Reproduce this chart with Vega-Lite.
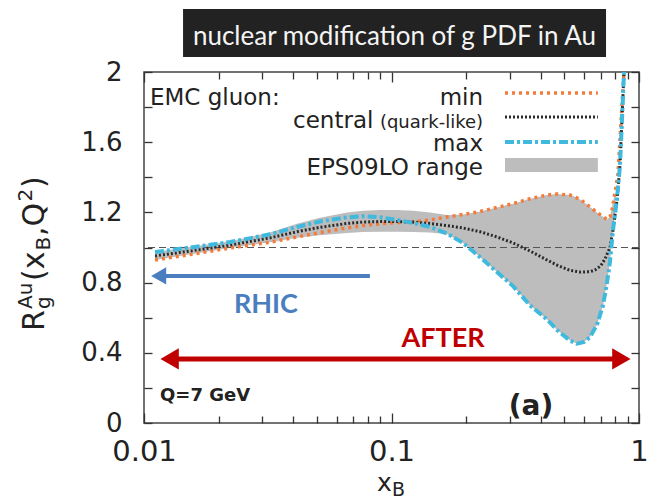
{
  "$schema": "https://vega.github.io/schema/vega-lite/v6.json",
  "width": 495,
  "height": 351,
  "autosize": {"type": "none"},
  "padding": {"left": 144, "top": 72, "right": 11, "bottom": 78},
  "background": "white",
  "config": {
    "font": "DejaVu Sans",
    "view": {"stroke": "#444444", "strokeWidth": 1.5},
    "axis": {"grid": false, "domain": false, "tickColor": "#333333", "tickWidth": 1.3, "labelColor": "#222222", "labelFont": "DejaVu Sans", "title": null}
  },
  "data": {"values": [{}]},
  "datasets": {
    "curves": [
      {"s": "min", "x": 0.01108, "y": 0.929}, {"s": "min", "x": 0.01535, "y": 0.96}, {"s": "min", "x": 0.02226, "y": 0.997},
      {"s": "min", "x": 0.0323, "y": 1.03}, {"s": "min", "x": 0.0415, "y": 1.06}, {"s": "min", "x": 0.0514, "y": 1.085},
      {"s": "min", "x": 0.0661, "y": 1.112}, {"s": "min", "x": 0.0767, "y": 1.125}, {"s": "min", "x": 0.0898, "y": 1.135},
      {"s": "min", "x": 0.1053, "y": 1.142}, {"s": "min", "x": 0.1221, "y": 1.147}, {"s": "min", "x": 0.1431, "y": 1.157},
      {"s": "min", "x": 0.1676, "y": 1.174}, {"s": "min", "x": 0.1945, "y": 1.188}, {"s": "min", "x": 0.2279, "y": 1.205},
      {"s": "min", "x": 0.2669, "y": 1.228}, {"s": "min", "x": 0.3098, "y": 1.25}, {"s": "min", "x": 0.3628, "y": 1.278},
      {"s": "min", "x": 0.425, "y": 1.299}, {"s": "min", "x": 0.4663, "y": 1.305}, {"s": "min", "x": 0.5262, "y": 1.299},
      {"s": "min", "x": 0.5775, "y": 1.275}, {"s": "min", "x": 0.634, "y": 1.231}, {"s": "min", "x": 0.6766, "y": 1.2},
      {"s": "min", "x": 0.7155, "y": 1.175}, {"s": "min", "x": 0.7426, "y": 1.16}, {"s": "min", "x": 0.7636, "y": 1.175},
      {"s": "min", "x": 0.778, "y": 1.214}, {"s": "min", "x": 0.8, "y": 1.311}, {"s": "min", "x": 0.8226, "y": 1.42},
      {"s": "min", "x": 0.8698, "y": 2.0},
      {"s": "central", "x": 0.01108, "y": 0.952}, {"s": "central", "x": 0.01535, "y": 0.98}, {"s": "central", "x": 0.02226, "y": 1.014},
      {"s": "central", "x": 0.0323, "y": 1.055}, {"s": "central", "x": 0.0415, "y": 1.09}, {"s": "central", "x": 0.0514, "y": 1.115},
      {"s": "central", "x": 0.0661, "y": 1.137}, {"s": "central", "x": 0.0767, "y": 1.145}, {"s": "central", "x": 0.0898, "y": 1.148},
      {"s": "central", "x": 0.1053, "y": 1.148}, {"s": "central", "x": 0.1221, "y": 1.145}, {"s": "central", "x": 0.1431, "y": 1.137},
      {"s": "central", "x": 0.1676, "y": 1.125}, {"s": "central", "x": 0.1945, "y": 1.111}, {"s": "central", "x": 0.2279, "y": 1.09},
      {"s": "central", "x": 0.2669, "y": 1.06}, {"s": "central", "x": 0.3098, "y": 1.026}, {"s": "central", "x": 0.3628, "y": 0.98},
      {"s": "central", "x": 0.425, "y": 0.929}, {"s": "central", "x": 0.4663, "y": 0.9}, {"s": "central", "x": 0.5262, "y": 0.87},
      {"s": "central", "x": 0.5775, "y": 0.86}, {"s": "central", "x": 0.634, "y": 0.862}, {"s": "central", "x": 0.6641, "y": 0.872},
      {"s": "central", "x": 0.7, "y": 0.895}, {"s": "central", "x": 0.7289, "y": 0.935}, {"s": "central", "x": 0.7636, "y": 1.0},
      {"s": "central", "x": 0.7853, "y": 1.1}, {"s": "central", "x": 0.815, "y": 1.27}, {"s": "central", "x": 0.8381, "y": 1.47},
      {"s": "central", "x": 0.8698, "y": 2.0},
      {"s": "max", "x": 0.01108, "y": 0.974}, {"s": "max", "x": 0.01535, "y": 1.0}, {"s": "max", "x": 0.02226, "y": 1.031},
      {"s": "max", "x": 0.0323, "y": 1.075}, {"s": "max", "x": 0.0415, "y": 1.117}, {"s": "max", "x": 0.0514, "y": 1.148},
      {"s": "max", "x": 0.0661, "y": 1.172}, {"s": "max", "x": 0.0767, "y": 1.178}, {"s": "max", "x": 0.0898, "y": 1.172},
      {"s": "max", "x": 0.1053, "y": 1.157}, {"s": "max", "x": 0.1221, "y": 1.14}, {"s": "max", "x": 0.1431, "y": 1.117},
      {"s": "max", "x": 0.1676, "y": 1.08}, {"s": "max", "x": 0.1945, "y": 1.026}, {"s": "max", "x": 0.2279, "y": 0.945},
      {"s": "max", "x": 0.2669, "y": 0.86}, {"s": "max", "x": 0.3098, "y": 0.78}, {"s": "max", "x": 0.3628, "y": 0.67},
      {"s": "max", "x": 0.425, "y": 0.59}, {"s": "max", "x": 0.4663, "y": 0.53}, {"s": "max", "x": 0.5262, "y": 0.47},
      {"s": "max", "x": 0.5616, "y": 0.452}, {"s": "max", "x": 0.6, "y": 0.462}, {"s": "max", "x": 0.634, "y": 0.49},
      {"s": "max", "x": 0.6766, "y": 0.56}, {"s": "max", "x": 0.7155, "y": 0.67}, {"s": "max", "x": 0.7426, "y": 0.8},
      {"s": "max", "x": 0.7636, "y": 0.92}, {"s": "max", "x": 0.7853, "y": 1.1}, {"s": "max", "x": 0.815, "y": 1.28},
      {"s": "max", "x": 0.8381, "y": 1.47}, {"s": "max", "x": 0.8698, "y": 2.0}
    ],
    "band": [
      {"x": 0.01108, "lo": 0.929, "hi": 0.974}, {"x": 0.02226, "lo": 0.997, "hi": 1.035}, {"x": 0.0323, "lo": 1.03, "hi": 1.085},
      {"x": 0.0415, "lo": 1.055, "hi": 1.135}, {"x": 0.0514, "lo": 1.07, "hi": 1.17}, {"x": 0.0661, "lo": 1.083, "hi": 1.2},
      {"x": 0.0767, "lo": 1.088, "hi": 1.21}, {"x": 0.0898, "lo": 1.09, "hi": 1.214}, {"x": 0.1053, "lo": 1.09, "hi": 1.214},
      {"x": 0.1221, "lo": 1.088, "hi": 1.21}, {"x": 0.1431, "lo": 1.085, "hi": 1.2}, {"x": 0.1676, "lo": 1.075, "hi": 1.185},
      {"x": 0.1945, "lo": 1.026, "hi": 1.188}, {"x": 0.2279, "lo": 0.945, "hi": 1.205}, {"x": 0.2669, "lo": 0.86, "hi": 1.228},
      {"x": 0.3098, "lo": 0.78, "hi": 1.25}, {"x": 0.3628, "lo": 0.67, "hi": 1.278}, {"x": 0.425, "lo": 0.59, "hi": 1.299},
      {"x": 0.4663, "lo": 0.53, "hi": 1.305}, {"x": 0.5262, "lo": 0.47, "hi": 1.299}, {"x": 0.5616, "lo": 0.452, "hi": 1.285},
      {"x": 0.6, "lo": 0.462, "hi": 1.258}, {"x": 0.634, "lo": 0.49, "hi": 1.231}, {"x": 0.6766, "lo": 0.56, "hi": 1.2},
      {"x": 0.7155, "lo": 0.67, "hi": 1.175}, {"x": 0.7426, "lo": 0.8, "hi": 1.16}, {"x": 0.7636, "lo": 0.92, "hi": 1.175},
      {"x": 0.7853, "lo": 1.1, "hi": 1.26}, {"x": 0.8, "lo": 1.2, "hi": 1.311}
    ]
  },
  "resolve": {"axis": {"x": "independent", "y": "independent"}},
  "layer": [
    {
      "data": {"name": "band"},
      "mark": {"type": "area", "color": "#bdbdbd", "opacity": 1},
      "encoding": {
        "x": {"field": "x", "type": "quantitative",
              "scale": {"type": "log", "domain": [0.01, 1], "nice": false},
              "axis": {"orient": "bottom",
                       "values": [0.01, 0.02, 0.03, 0.04, 0.05, 0.06, 0.07, 0.08, 0.09, 0.1, 0.2, 0.3, 0.4, 0.5, 0.6, 0.7, 0.8, 0.9, 1],
                       "format": "~g",
                       "labelExpr": "datum.value == 0.01 || datum.value == 0.1 || datum.value == 1 ? datum.label : ''",
                       "tickSize": {"condition": {"test": "datum.value == 0.01 || datum.value == 0.1 || datum.value == 1", "value": -10}, "value": -7},
                       "labelFlush": false, "labelOverlap": false, "labelFontSize": 29, "labelPadding": 24}},
        "y": {"field": "lo", "type": "quantitative",
              "scale": {"domain": [0, 2], "nice": false},
              "axis": {"orient": "left",
                       "values": [0, 0.2, 0.4, 0.6, 0.8, 1, 1.2, 1.4, 1.6, 1.8, 2],
                       "format": "~g",
                       "labelExpr": "round(datum.value * 5) % 2 == 0 ? datum.label : ''",
                       "tickSize": -8, "labelOverlap": false, "labelFlush": false, "labelFontSize": 26, "labelPadding": 30}},
        "y2": {"field": "hi"}
      }
    },
    {
      "mark": {"type": "rule", "color": "#555555", "strokeWidth": 1.2, "strokeDash": [7, 4]},
      "encoding": {"y": {"datum": 1, "type": "quantitative", "axis": null}}
    },
    {
      "mark": {"type": "rule", "color": "#4a7ebf", "strokeWidth": 4},
      "encoding": {
        "x": {"datum": 0.01147, "type": "quantitative",
              "axis": {"orient": "top",
                       "values": [0.01, 0.02, 0.03, 0.04, 0.05, 0.06, 0.07, 0.08, 0.09, 0.1, 0.2, 0.3, 0.4, 0.5, 0.6, 0.7, 0.8, 0.9, 1],
                       "labels": false,
                       "tickSize": {"condition": {"test": "datum.value == 0.01 || datum.value == 0.1 || datum.value == 1", "value": -10}, "value": -7}}},
        "x2": {"datum": 0.0818},
        "y": {"datum": 0.838, "type": "quantitative",
              "axis": {"orient": "right", "values": [0, 0.2, 0.4, 0.6, 0.8, 1, 1.2, 1.4, 1.6, 1.8, 2], "labels": false, "tickSize": -8}}
      }
    },
    {
      "mark": {"type": "point", "shape": "triangle-left", "filled": true, "size": 300, "color": "#4a7ebf", "opacity": 1},
      "encoding": {"x": {"datum": 0.011466, "type": "quantitative", "axis": null}, "y": {"datum": 0.838, "type": "quantitative", "axis": null}}
    },
    {
      "mark": {"type": "text", "text": "RHIC", "font": "Lato", "fontWeight": "bold", "fontSize": 27, "color": "#4a7ebf", "align": "center", "baseline": "alphabetic"},
      "encoding": {"x": {"datum": 0.0311, "type": "quantitative", "axis": null}, "y": {"datum": 0.627, "type": "quantitative", "axis": null}}
    },
    {
      "mark": {"type": "rule", "color": "#c00000", "strokeWidth": 5},
      "encoding": {"x": {"datum": 0.0127, "type": "quantitative", "axis": null}, "x2": {"datum": 0.8489}, "y": {"datum": 0.365, "type": "quantitative", "axis": null}}
    },
    {
      "mark": {"type": "point", "shape": "triangle-left", "filled": true, "size": 450, "color": "#c00000", "opacity": 1},
      "encoding": {"x": {"datum": 0.01269, "type": "quantitative", "axis": null}, "y": {"datum": 0.365, "type": "quantitative", "axis": null}}
    },
    {
      "mark": {"type": "point", "shape": "triangle-right", "filled": true, "size": 450, "color": "#c00000", "opacity": 1},
      "encoding": {"x": {"datum": 0.8489, "type": "quantitative", "axis": null}, "y": {"datum": 0.365, "type": "quantitative", "axis": null}}
    },
    {
      "mark": {"type": "text", "text": "AFTER", "font": "Lato", "fontWeight": "bold", "fontSize": 27, "color": "#c00000", "align": "center", "baseline": "alphabetic"},
      "encoding": {"x": {"datum": 0.1614, "type": "quantitative", "axis": null}, "y": {"datum": 0.433, "type": "quantitative", "axis": null}}
    },
    {
      "data": {"name": "curves"},
      "transform": [{"filter": "datum.s == 'min'"}],
      "mark": {"type": "line", "color": "#f47b3a", "strokeWidth": 3.5, "strokeDash": [3, 4]},
      "encoding": {"x": {"field": "x", "type": "quantitative", "axis": null}, "y": {"field": "y", "type": "quantitative", "axis": null}, "order": {"field": "x"}}
    },
    {
      "data": {"name": "curves"},
      "transform": [{"filter": "datum.s == 'central'"}],
      "mark": {"type": "line", "color": "#2b2b2b", "strokeWidth": 3, "strokeDash": [2, 2]},
      "encoding": {"x": {"field": "x", "type": "quantitative", "axis": null}, "y": {"field": "y", "type": "quantitative", "axis": null}, "order": {"field": "x"}}
    },
    {
      "data": {"name": "curves"},
      "transform": [{"filter": "datum.s == 'max'"}],
      "mark": {"type": "line", "color": "#3fb9de", "strokeWidth": 4, "strokeDash": [9, 3, 3, 3]},
      "encoding": {"x": {"field": "x", "type": "quantitative", "axis": null}, "y": {"field": "y", "type": "quantitative", "axis": null}, "order": {"field": "x"}}
    },
    {
      "mark": {"type": "text", "text": "EMC gluon:", "fontSize": 23, "color": "#222222", "align": "left", "baseline": "alphabetic"},
      "encoding": {"x": {"datum": 0.01057, "type": "quantitative", "axis": null}, "y": {"datum": 1.812, "type": "quantitative", "axis": null}}
    },
    {
      "mark": {"type": "text", "text": "min", "fontSize": 23, "color": "#222222", "align": "right", "baseline": "alphabetic"},
      "encoding": {"x": {"datum": 0.2343, "type": "quantitative", "axis": null}, "y": {"datum": 1.812, "type": "quantitative", "axis": null}}
    },
    {
      "mark": {"type": "text", "text": "(quark-like)", "fontSize": 18, "color": "#222222", "align": "right", "baseline": "alphabetic"},
      "encoding": {"x": {"datum": 0.2343, "type": "quantitative", "axis": null}, "y": {"datum": 1.681, "type": "quantitative", "axis": null}}
    },
    {
      "mark": {"type": "text", "text": "central", "fontSize": 23, "color": "#222222", "align": "right", "baseline": "alphabetic"},
      "encoding": {"x": {"datum": 0.0845, "type": "quantitative", "axis": null}, "y": {"datum": 1.681, "type": "quantitative", "axis": null}}
    },
    {
      "mark": {"type": "text", "text": "max", "fontSize": 23, "color": "#222222", "align": "right", "baseline": "alphabetic"},
      "encoding": {"x": {"datum": 0.2343, "type": "quantitative", "axis": null}, "y": {"datum": 1.55, "type": "quantitative", "axis": null}}
    },
    {
      "mark": {"type": "text", "text": "EPS09LO range", "fontSize": 23, "color": "#222222", "align": "right", "baseline": "alphabetic"},
      "encoding": {"x": {"datum": 0.2343, "type": "quantitative", "axis": null}, "y": {"datum": 1.413, "type": "quantitative", "axis": null}}
    },
    {
      "mark": {"type": "rule", "color": "#f47b3a", "strokeWidth": 3.5, "strokeDash": [3, 4]},
      "encoding": {"x": {"datum": 0.2875, "type": "quantitative", "axis": null}, "x2": {"datum": 0.682}, "y": {"datum": 1.88, "type": "quantitative", "axis": null}}
    },
    {
      "mark": {"type": "rule", "color": "#2b2b2b", "strokeWidth": 3, "strokeDash": [2, 2]},
      "encoding": {"x": {"datum": 0.2875, "type": "quantitative", "axis": null}, "x2": {"datum": 0.682}, "y": {"datum": 1.744, "type": "quantitative", "axis": null}}
    },
    {
      "mark": {"type": "rule", "color": "#3fb9de", "strokeWidth": 4, "strokeDash": [9, 3, 3, 3]},
      "encoding": {"x": {"datum": 0.2875, "type": "quantitative", "axis": null}, "x2": {"datum": 0.682}, "y": {"datum": 1.601, "type": "quantitative", "axis": null}}
    },
    {
      "mark": {"type": "rect", "color": "#bdbdbd"},
      "encoding": {"x": {"datum": 0.2875, "type": "quantitative", "axis": null}, "x2": {"datum": 0.682}, "y": {"datum": 1.51, "type": "quantitative", "axis": null}, "y2": {"datum": 1.43}}
    },
    {
      "mark": {"type": "text", "text": "Q=7 GeV", "fontSize": 18, "fontWeight": "bold", "color": "#222222", "align": "left", "baseline": "alphabetic"},
      "encoding": {"x": {"datum": 0.011605, "type": "quantitative", "axis": null}, "y": {"datum": 0.125, "type": "quantitative", "axis": null}}
    },
    {
      "mark": {"type": "text", "text": "(a)", "fontSize": 28, "fontWeight": "bold", "color": "#222222", "align": "center", "baseline": "alphabetic"},
      "encoding": {"x": {"datum": 0.3662, "type": "quantitative", "axis": null}, "y": {"datum": 0.046, "type": "quantitative", "axis": null}}
    },
    {
      "mark": {"type": "rect", "color": "#222222"},
      "encoding": {"x": {"datum": 0.01438, "type": "quantitative", "axis": null}, "x2": {"datum": 0.7358}, "y": {"datum": 2.359, "type": "quantitative", "axis": null}, "y2": {"datum": 2.085}}
    },
    {
      "mark": {"type": "text", "text": "nuclear modification of g PDF in Au", "font": "Lato", "fontSize": 26, "color": "#f4f4f4", "align": "center", "baseline": "alphabetic"},
      "encoding": {"x": {"datum": 0.1028, "type": "quantitative", "axis": null}, "y": {"datum": 2.154, "type": "quantitative", "axis": null}}
    },
    {
      "mark": {"type": "text", "text": "x", "fontSize": 25, "color": "#222222", "align": "left", "baseline": "alphabetic"},
      "encoding": {"x": {"datum": 0.08738, "type": "quantitative", "axis": null}, "y": {"datum": -0.387, "type": "quantitative", "axis": null}}
    },
    {
      "mark": {"type": "text", "text": "B", "fontSize": 19, "color": "#222222", "align": "left", "baseline": "alphabetic"},
      "encoding": {"x": {"datum": 0.1005, "type": "quantitative", "axis": null}, "y": {"datum": -0.416, "type": "quantitative", "axis": null}}
    },
    {
      "mark": {"type": "text", "text": "R", "fontSize": 30, "angle": 270, "color": "#222222", "align": "left", "baseline": "alphabetic"},
      "encoding": {"x": {"datum": 0.003945, "type": "quantitative", "axis": null}, "y": {"datum": 0.524, "type": "quantitative", "axis": null}}
    },
    {
      "mark": {"type": "text", "text": "Au", "fontSize": 20, "angle": 270, "color": "#222222", "align": "left", "baseline": "alphabetic"},
      "encoding": {"x": {"datum": 0.003528, "type": "quantitative", "axis": null}, "y": {"datum": 0.65, "type": "quantitative", "axis": null}}
    },
    {
      "mark": {"type": "text", "text": "g", "fontSize": 20, "angle": 270, "color": "#222222", "align": "left", "baseline": "alphabetic"},
      "encoding": {"x": {"datum": 0.004171, "type": "quantitative", "axis": null}, "y": {"datum": 0.65, "type": "quantitative", "axis": null}}
    },
    {
      "mark": {"type": "text", "text": "(x", "fontSize": 30, "angle": 270, "color": "#222222", "align": "left", "baseline": "alphabetic"},
      "encoding": {"x": {"datum": 0.003945, "type": "quantitative", "axis": null}, "y": {"datum": 0.809, "type": "quantitative", "axis": null}}
    },
    {
      "mark": {"type": "text", "text": "B", "fontSize": 20, "angle": 270, "color": "#222222", "align": "left", "baseline": "alphabetic"},
      "encoding": {"x": {"datum": 0.004171, "type": "quantitative", "axis": null}, "y": {"datum": 0.983, "type": "quantitative", "axis": null}}
    },
    {
      "mark": {"type": "text", "text": ",Q", "fontSize": 30, "angle": 270, "color": "#222222", "align": "left", "baseline": "alphabetic"},
      "encoding": {"x": {"datum": 0.003945, "type": "quantitative", "axis": null}, "y": {"datum": 1.066, "type": "quantitative", "axis": null}}
    },
    {
      "mark": {"type": "text", "text": "2", "fontSize": 20, "angle": 270, "color": "#222222", "align": "left", "baseline": "alphabetic"},
      "encoding": {"x": {"datum": 0.003528, "type": "quantitative", "axis": null}, "y": {"datum": 1.262, "type": "quantitative", "axis": null}}
    },
    {
      "mark": {"type": "text", "text": ")", "fontSize": 30, "angle": 270, "color": "#222222", "align": "left", "baseline": "alphabetic"},
      "encoding": {"x": {"datum": 0.003945, "type": "quantitative", "axis": null}, "y": {"datum": 1.339, "type": "quantitative", "axis": null}}
    }
  ]
}
